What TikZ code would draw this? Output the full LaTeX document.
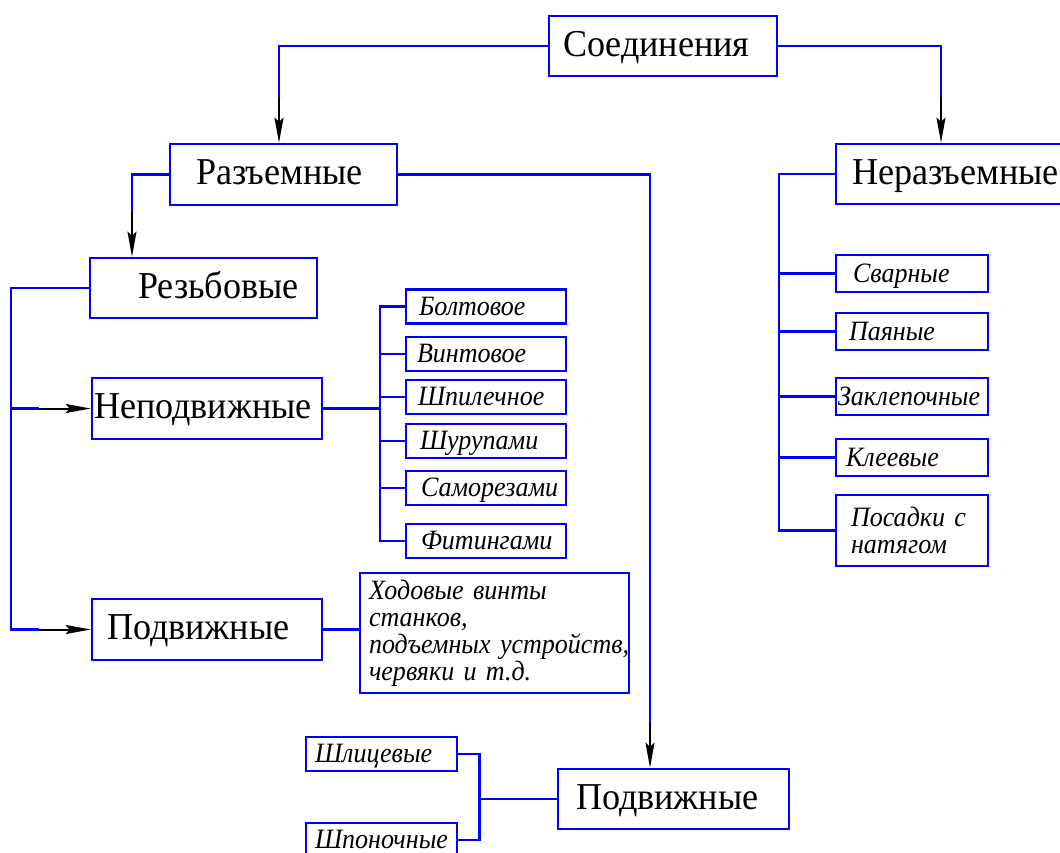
\documentclass[tikz,border=0pt]{standalone}
\usepackage{fontspec}
\setmainfont{Liberation Serif}
\newfontfamily\bigf[FakeStretch=0.95]{Liberation Serif}
\newfontfamily\smallf[FakeStretch=0.93]{Liberation Serif}
\usetikzlibrary{arrows.meta}
\begin{document}
\begin{tikzpicture}[x=1pt,y=-1pt,
  conn/.style={blue, line width=2.4pt},
  tipseg/.style={black, line width=2pt, -{Stealth[length=25pt,width=9pt,inset=4pt]}},
  bigbox/.style={draw=blue, line width=2.6pt, inner ysep=0pt, align=left,
    font=\bigf\fontsize{38}{40}\selectfont, text height=28.5pt, text depth=7.6pt},
  smallbox/.style={draw=blue, line width=2.6pt, inner ysep=0pt, align=left,
    font=\smallf\itshape\fontsize{28}{27}\selectfont, text height=20.5pt, text depth=3pt},
  multibox/.style={draw=blue, line width=2.6pt, inner ysep=0pt, align=left,
    font=\smallf\itshape\fontsize{28}{27}\selectfont},
]
\path[use as bounding box, clip] (0,0) rectangle (1060,852);
\fill[white] (0,0) rectangle (1060,852);

% main boxes
\node[bigbox, minimum height=60, inner xsep=14pt, text width=200pt] (soed) at (663,46) {Соединения};
\node[bigbox, minimum height=61, inner xsep=26pt, text width=175pt] (razj) at (283.5,174.5) {Разъемные};
\node[bigbox, minimum height=60, inner xsep=16pt, text width=196pt] (neraz) at (950,174) {Неразъемные};
\node[bigbox, minimum height=60, inner xsep=48pt, text width=131pt] (rezb) at (203.5,288) {Резьбовые};
\node[bigbox, minimum height=61, inner xsep=2pt, text width=226pt] (nepodv) at (207,408.5) {Неподвижные};
\node[bigbox, minimum height=61, inner xsep=15pt, text width=200pt] (podvL) at (207,629.5) {Подвижные};
\node[bigbox, minimum height=60, inner xsep=18pt, text width=195pt] (podvB) at (673.5,799) {Подвижные};

% fixed threaded
\node[smallbox, minimum height=34, inner xsep=13pt, text width=134pt] (bolt) at (486,306.5) {Болтовое};
\node[smallbox, minimum height=34, inner xsep=11pt, text width=138pt] (vint) at (486,354) {Винтовое};
\node[smallbox, minimum height=34, inner xsep=12pt, text width=136pt] (shpil) at (486,397) {Шпилечное};
\node[smallbox, minimum height=34, inner xsep=14pt, text width=132pt] (shur) at (486,441) {Шурупами};
\node[smallbox, minimum height=34, inner xsep=15pt, text width=130pt] (samo) at (486,488) {Саморезами};
\node[smallbox, minimum height=34, inner xsep=15pt, text width=130pt] (fit) at (486,541) {Фитингами};

% permanent
\node[smallbox, minimum height=37, inner xsep=17pt, text width=118pt] (svar) at (912,273.5) {Сварные};
\node[smallbox, minimum height=37, inner xsep=13pt, text width=126pt] (pay) at (912,331.5) {Паяные};
\node[smallbox, minimum height=37, inner xsep=2pt, text width=148pt] (zakl) at (912,396.5) {Заклепочные};
\node[smallbox, minimum height=37, inner xsep=10pt, text width=132pt] (kle) at (912,457.5) {Клеевые};
\node[multibox, minimum height=71, inner xsep=15pt, text width=122pt] (posad) at (912,530.5) {\mbox{Посадки с}\\натягом};

% movable threaded
\node[multibox, minimum height=120, inner xsep=9pt, text width=251pt] (hod) at (494.5,633) {\mbox{Ходовые винты}\\станков,\\\mbox{подъемных устройств,}\\\mbox{червяки и т.д.}};

% movable
\node[smallbox, minimum height=34, inner xsep=9pt, text width=133pt] (shl) at (381.5,754) {Шлицевые};
\node[smallbox, minimum height=34, inner xsep=9pt, text width=133pt] (shp) at (381.5,840) {Шпоночные};

% arrow targets
\coordinate (t1) at ([xshift=-4.5pt]razj.north);
\coordinate (t2) at ([xshift=-9pt]neraz.north);
\coordinate (t3) at ([xshift=-71.5pt]rezb.north);
\coordinate (t4) at ([xshift=-23.5pt]podvB.north);
\coordinate (s1) at ([yshift=45pt]t1);
\coordinate (s2) at ([yshift=45pt]t2);
\coordinate (s3) at ([yshift=45pt]t3);
\coordinate (s4) at ([yshift=45pt]t4);
\coordinate (s5) at ([xshift=-52pt]nepodv.west);
\coordinate (s6) at ([xshift=-52pt]podvL.west);

% connectors
\draw[conn] (soed.west) -| (s1);
\draw[tipseg] (s1) -- (t1);
\draw[conn] (soed.east) -| (s2);
\draw[tipseg] (s2) -- (t2);
\draw[conn] (razj.west) -| (s3);
\draw[tipseg] (s3) -- (t3);
\draw[conn] (razj.east) -| (s4);
\draw[tipseg] (s4) -- (t4);

\draw[conn] (rezb.west) -| ([xshift=-80pt]podvL.west) -- (s6);
\draw[tipseg] (s6) -- (podvL.west);
\draw[conn] ([xshift=-80pt]nepodv.west) -- (s5);
\draw[tipseg] (s5) -- (nepodv.west);

\draw[conn] (nepodv.east) -- ([xshift=-25pt]nepodv.east -| bolt.west);
\draw[conn] (bolt.west) -- ++(-25,0) |- (fit.west);
\draw[conn] (vint.west) -- ++(-25,0);
\draw[conn] (shpil.west) -- ++(-25,0);
\draw[conn] (shur.west) -- ++(-25,0);
\draw[conn] (samo.west) -- ++(-25,0);

\draw[conn] (neraz.west) -- ++(-56,0) |- (posad.west);
\draw[conn] (svar.west) -- ++(-56,0);
\draw[conn] (pay.west) -- ++(-56,0);
\draw[conn] (zakl.west) -- ++(-56,0);
\draw[conn] (kle.west) -- ++(-56,0);

\draw[conn] (podvL.east) -- (podvL.east -| hod.west);

\draw[conn] (shl.east) -- ++(21,0) |- (shp.east);
\draw[conn] (podvB.west) -- ([xshift=-79pt]podvB.west);
\end{tikzpicture}
\end{document}
